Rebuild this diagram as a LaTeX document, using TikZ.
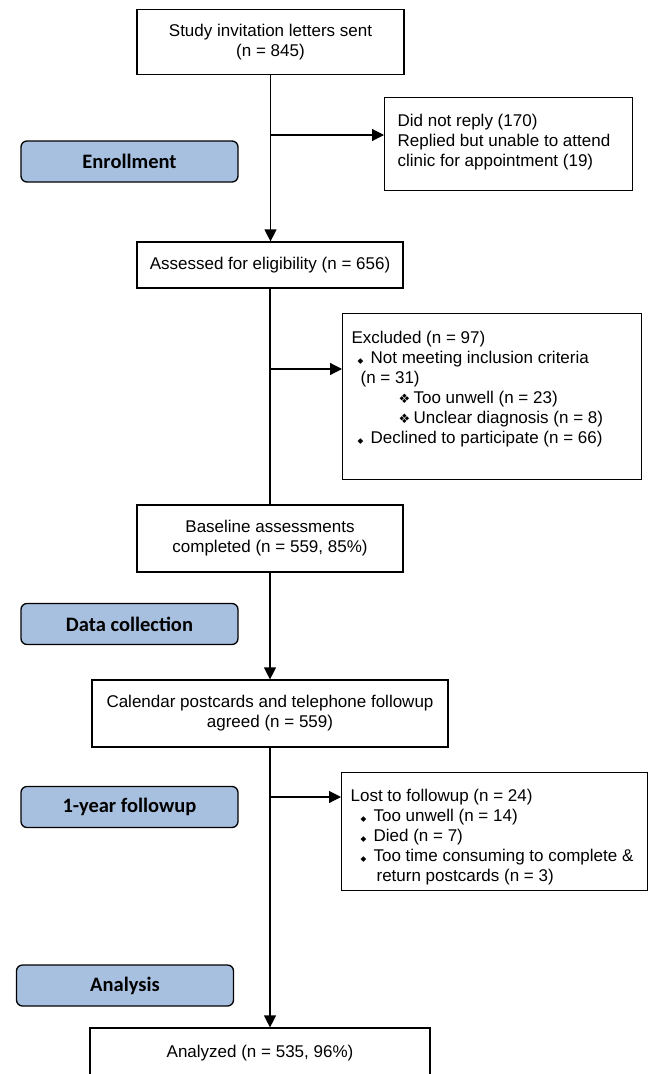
\documentclass[tikz,border=0pt]{standalone}
\usepackage{fontspec}
\setmainfont{Liberation Sans}
\newfontfamily\stagefont{Carlito}
\newfontfamily\symfont{DejaVu Sans}
\usepackage{tikz}
\usetikzlibrary{positioning,calc,arrows.meta}
\definecolor{stageblue}{RGB}{168,192,224}
\newcommand{\dia}{\makebox[13pt][l]{\symfont\fontsize{7.5}{7.5}\selectfont ◆}}
\newcommand{\subdia}{\makebox[15pt][l]{\symfont\fontsize{13}{13}\selectfont ❖}}

\begin{document}
\begin{tikzpicture}[x=1pt, y=-1pt,
    box/.style={draw, line width=1.2pt, align=center, inner sep=0pt, font=\fontsize{17}{20}\selectfont},
    sidebox/.style={draw, line width=1.2pt, anchor=north west, inner xsep=9pt, inner ysep=0pt, font=\fontsize{17}{20}\selectfont},
    stage/.style={draw, line width=1.3pt, rounded corners=6pt, fill=stageblue, minimum width=217pt, minimum height=41pt, font=\stagefont\bfseries\fontsize{20.5}{24}\selectfont},
    arr/.style={line width=1.2pt, -{Triangle[length=12pt,width=12pt]}},
    link/.style={line width=1.2pt}]
    \useasboundingbox (0,0) rectangle (649,1074);
    \fill[white] (0,0) rectangle (649,1074);

    % Stages
    \node[stage] (enrol) at (129.5,161.5) {Enrollment};
    \node[stage] (collect) at (129.5,624) {Data collection};
    \node[stage] (year) at (129.5,807) {1-year followup};
    \node[stage] (analysis) at (125,985.5) {Analysis};

    % Enrollment
    \node[box, minimum width=267pt, minimum height=65pt] (invite) at (270.5,42) {Study invitation letters sent\\(n = 845)};
    \node[sidebox, inner xsep=13pt] (noreply) at (384,97) {\parbox[c][93pt][t]{222pt}{\rule{0pt}{29pt}Did not reply (170)\\Replied but unable to attend\\clinic for appointment (19)}};
    \node[box, minimum width=266pt, minimum height=46pt] (assess) at (270,265) {Assessed for eligibility (n = 656)};
    \node[sidebox] (excl) at (342,313) {\parbox[c][166pt][t]{281pt}{\rule{0pt}{30pt}Excluded (n = 97)\\
        \hspace*{6pt}\dia Not meeting inclusion criteria\\
        \hspace*{9pt}(n = 31)\\
        \hspace*{47pt}\subdia Too unwell (n = 23)\\
        \hspace*{47pt}\subdia Unclear diagnosis (n = 8)\\
        \hspace*{6pt}\dia Declined to participate (n = 66)}};

    % Data collection
    \node[box, minimum width=266pt, minimum height=67pt] (base) at (270,538.5) {Baseline assessments\\completed (n = 559, 85\%)};
    \node[box, minimum width=356pt, minimum height=67pt] (calendar) at (270,713.5) {Calendar postcards and telephone followup\\agreed (n = 559)};

    % Followup and analysis
    \node[sidebox] (lost) at (341,772) {\parbox[c][118pt][t]{288pt}{\rule{0pt}{29pt}Lost to followup (n = 24)\\
        \hspace*{10pt}\dia Too unwell (n = 14)\\
        \hspace*{10pt}\dia Died (n = 7)\\
        \hspace*{10pt}\dia Too time consuming to complete \&\\
        \hspace*{26pt}return postcards (n = 3)}};
    \node[box, minimum width=340pt, minimum height=50pt] (analyzed) at (260,1053) {Analyzed (n = 535, 96\%)};

    % Connectors
    \coordinate (j1) at (270,135);
    \coordinate (j2) at (270,369);
    \coordinate (j3) at (270,797);
    \draw[arr] (invite.south) -- (invite.south |- assess.north);
    \draw[arr] (j1) -- (j1 -| noreply.west);
    \draw[link] (assess.south) -- (assess.south |- base.north);
    \draw[arr] (j2) -- (j2 -| excl.west);
    \draw[arr] (base.south) -- (base.south |- calendar.north);
    \draw[arr] (calendar.south) -- (calendar.south |- analyzed.north);
    \draw[arr] (j3) -- (j3 -| lost.west);
\end{tikzpicture}
\end{document}
